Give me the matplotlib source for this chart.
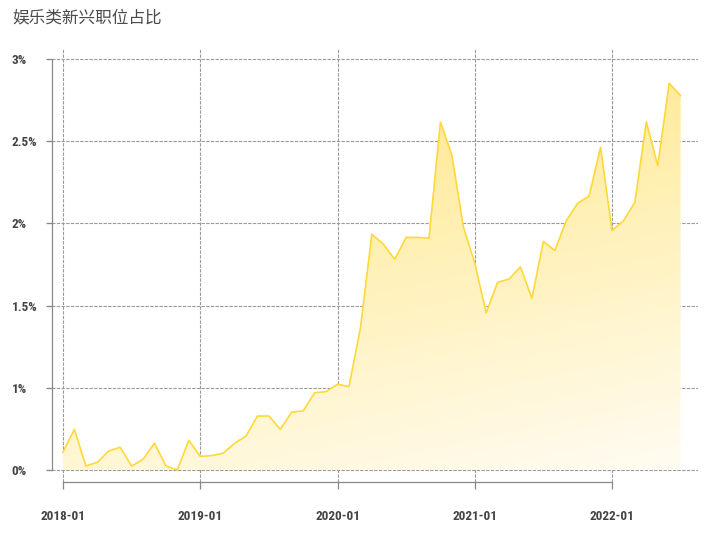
import numpy as np
import matplotlib.pyplot as plt
from matplotlib import font_manager
from matplotlib.colors import LinearSegmentedColormap

plt.rcParams['font.family'] = ['Noto Sans CJK SC', 'DejaVu Sans']

# 月度数据 2018-01 .. 2022-07 (纵轴单位按图中刻度位置读取)
months = np.arange(55)
share = [0.131, 0.297, 0.029, 0.056, 0.139, 0.166, 0.029, 0.078, 0.195, 0.029, 0.0, 0.217,
         0.100, 0.105, 0.122, 0.195, 0.248, 0.394, 0.394, 0.297, 0.423, 0.431, 0.564, 0.572,
         0.626, 0.608, 1.034, 1.720, 1.650, 1.538, 1.698, 1.698, 1.693, 2.540, 2.299, 1.776,
         1.511, 1.148, 1.370, 1.394, 1.482, 1.253, 1.669, 1.601, 1.820, 1.947, 2.000, 2.356,
         1.747, 1.818, 1.954, 2.542, 2.221, 2.823, 2.732]
xtick_pos = [0, 12, 24, 36, 48]
xtick_labels = ['2018-01', '2019-01', '2020-01', '2021-01', '2022-01']
ytick_pos = [0, 0.6, 1.2, 1.8, 2.4, 3.0]
ytick_labels = ['0%', '1%', '1.5%', '2%', '2.5%', '3%']
title = '娱乐类新兴职位占比'

# narrow-ish font for the tick labels
names = {f.name for f in font_manager.fontManager.ttflist}
tick_fam = 'Lato'
for cand in ['Liberation Sans Narrow', 'DejaVu Sans Condensed', 'Roboto Condensed', 'Lato']:
    if cand in names:
        tick_fam = cand
        break

W, H = 722, 536
fig = plt.figure(figsize=(W / 100, H / 100), dpi=100)
ax = fig.add_axes([47 / W, 1 - 495 / H, (698 - 47) / W, (495 - 48) / H])

px = 3 / 411.0
xl = ((47 - 63) / 11.4375, (698 - 63) / 11.4375)
yl = (-25 * px, 3 + 11 * px)

line_c = '#FFD83A'
ax.plot(months, share, color=line_c, lw=1.2, zorder=4)
poly = ax.fill_between(months, share, 0, color='none', lw=0)

# diagonal gradient fill
cmap = LinearSegmentedColormap.from_list('g', ['#FFFCF2', '#FFF1B8', '#FFE47F'])
gx, gy = np.meshgrid(np.linspace(0, 1, 200), np.linspace(0, 1, 200))
grad = 0.75 * gy + 0.25 * (1 - gx)
img = ax.imshow(grad, cmap=cmap, origin='lower', aspect='auto',
                extent=[0, 54, 0, 2.9], zorder=2, vmin=0, vmax=1)
img.set_clip_path(poly.get_paths()[0], transform=ax.transData)
ax.set_xlim(*xl)
ax.set_ylim(*yl)

grid_kw = dict(color='#9a9a9a', lw=0.8, ls=(0, (3, 1.2)), zorder=1)
for yv in ytick_pos:
    ax.axhline(yv, **grid_kw)
for xv in xtick_pos:
    ax.plot([xv, xv], [-12 * px, yl[1]], **grid_kw)

for s in ['top', 'right']:
    ax.spines[s].set_visible(False)
ax.spines['left'].set_position(('data', (52 - 63) / 11.4375))
ax.spines['left'].set_bounds(0, 3)
ax.spines['bottom'].set_position(('data', -12 * px))
ax.spines['bottom'].set_bounds(0, 48)
for s in ['left', 'bottom']:
    ax.spines[s].set_color('#888888')
    ax.spines[s].set_linewidth(0.9)

tfont = dict(family=[tick_fam, 'DejaVu Sans'], weight='bold', size=9.5)
ax.set_yticks(ytick_pos)
ax.set_yticklabels(ytick_labels, color='#444444', ha='left', **tfont)
ax.set_xticks(xtick_pos)
ax.set_xticklabels(xtick_labels, color='#444444', **tfont)
ax.tick_params(axis='y', length=4.5, width=0.9, color='#888888', pad=24.5)
ax.tick_params(axis='x', length=5, width=0.9, color='#888888', pad=15)

fig.text(12 / W, 1 - 18 / H, title, fontsize=12, color='#4a4a4a', va='center', ha='left')

fig.savefig('out.png', dpi=100)
